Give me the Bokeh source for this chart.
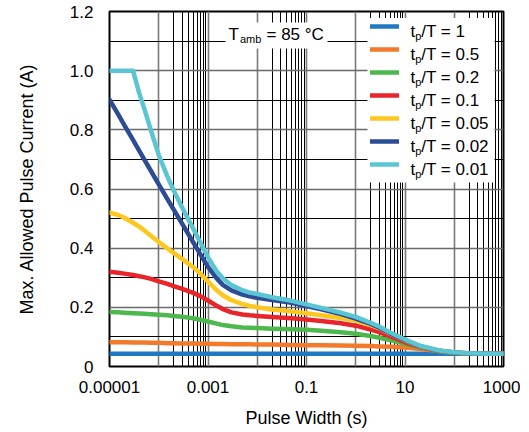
from bokeh.plotting import figure
from bokeh.models import Range1d, FixedTicker, Legend, LegendItem, Label, BoxAnnotation
from bokeh.embed import file_html
from bokeh.resources import INLINE

# ---------------- data ----------------
pulse_width_s = [1e-5, 1.5e-5, 2e-5, 3e-5, 4e-5, 5e-5, 7e-5, 1e-4, 1.5e-4, 2e-4, 3e-4, 5e-4, 7e-4,
                 1e-3, 1.5e-3, 2e-3, 3e-3, 5e-3, 7e-3, 1e-2, 2e-2, 5e-2, 0.1, 0.2, 0.5,
                 1, 2, 3, 5, 10, 20, 50, 100, 200, 500, 1000]

current_d1 = [0.043, 0.043, 0.043, 0.043, 0.043, 0.043, 0.043, 0.043, 0.043, 0.043, 0.043, 0.043,
              0.043, 0.043, 0.043, 0.043, 0.043, 0.043, 0.043, 0.043, 0.043, 0.043, 0.043, 0.043,
              0.043, 0.043, 0.043, 0.043, 0.043, 0.043, 0.043, 0.043, 0.043, 0.043, 0.043, 0.043]
current_d05 = [0.082, 0.082, 0.082, 0.081, 0.081, 0.081, 0.080, 0.080, 0.079, 0.079, 0.078, 0.078,
               0.077, 0.077, 0.076, 0.076, 0.075, 0.075, 0.075, 0.074, 0.074, 0.073, 0.072, 0.072,
               0.071, 0.070, 0.069, 0.068, 0.067, 0.064, 0.059, 0.052, 0.047, 0.044, 0.043, 0.043]
current_d02 = [0.184, 0.183, 0.182, 0.180, 0.179, 0.178, 0.177, 0.175, 0.173, 0.171, 0.168, 0.163,
               0.158, 0.152, 0.145, 0.140, 0.136, 0.132, 0.131, 0.130, 0.128, 0.126, 0.124, 0.121,
               0.116, 0.111, 0.103, 0.097, 0.089, 0.077, 0.064, 0.051, 0.046, 0.044, 0.043, 0.043]
current_d01 = [0.320, 0.317, 0.314, 0.309, 0.305, 0.302, 0.296, 0.288, 0.279, 0.272, 0.262, 0.249,
               0.238, 0.223, 0.205, 0.194, 0.183, 0.176, 0.173, 0.171, 0.167, 0.163, 0.159, 0.154,
               0.146, 0.138, 0.125, 0.116, 0.102, 0.082, 0.066, 0.052, 0.047, 0.044, 0.043, 0.043]
current_d005 = [0.520, 0.512, 0.503, 0.486, 0.473, 0.461, 0.441, 0.421, 0.399, 0.384, 0.363, 0.336,
                0.314, 0.287, 0.258, 0.241, 0.224, 0.211, 0.205, 0.200, 0.193, 0.186, 0.180, 0.173,
                0.164, 0.155, 0.140, 0.129, 0.111, 0.088, 0.068, 0.053, 0.047, 0.044, 0.043, 0.043]
current_d002 = [0.902, 0.852, 0.816, 0.766, 0.730, 0.702, 0.660, 0.616, 0.566, 0.531, 0.482, 0.420,
                0.379, 0.337, 0.298, 0.276, 0.257, 0.243, 0.237, 0.232, 0.225, 0.215, 0.204, 0.193,
                0.177, 0.162, 0.144, 0.131, 0.112, 0.089, 0.069, 0.053, 0.047, 0.044, 0.043, 0.043]
current_d001 = [1.000, 1.000, 1.000, 1.000, 0.925, 0.875, 0.796, 0.715, 0.642, 0.596, 0.537, 0.466,
                0.419, 0.369, 0.322, 0.298, 0.275, 0.258, 0.250, 0.245, 0.234, 0.222, 0.210, 0.198,
                0.182, 0.168, 0.148, 0.135, 0.115, 0.091, 0.070, 0.054, 0.048, 0.045, 0.043, 0.043]

duty_labels = ["1", "0.5", "0.2", "0.1", "0.05", "0.02", "0.01"]
series = [current_d1, current_d05, current_d02, current_d01, current_d005, current_d002, current_d001]
colors = ["#1F78C1", "#F37A2B", "#4DB84E", "#E9242B", "#FFC61E", "#2C4D96", "#5BC6D3"]

x_tick_values = [1e-5, 1e-3, 0.1, 10, 1000]
x_tick_labels = ["0.00001", "0.001", "0.1", "10", "1000"]
y_tick_values = [0, 0.2, 0.4, 0.6, 0.8, 1.0, 1.2]
y_tick_labels = ["0", "0.2", "0.4", "0.6", "0.8", "1.0", "1.2"]

x_grid_decades = [1e-5, 1e-4, 1e-3, 1e-2, 1e-1, 1, 10, 100, 1000]
x_grid_minor = [m * d for d in (1e-4, 1e-2, 1, 100) for m in (2, 3, 4, 5, 6, 7, 8, 9)]
y_grid_major = [0, 0.2, 0.4, 0.6, 0.8, 1.0, 1.2]
y_grid_minor = [0.1, 0.3, 0.5, 0.7, 0.9, 1.1]

FONT = "Liberation Sans"

# frame placement on the canvas (px)
W, H = 520, 432
FL, FR, FT, FB = 109, 503, 11, 366
X0, X1, Y0, Y1 = -5, 3, 0.0, 1.2


def px2x(px):
    return 10 ** (X0 + (px - FL) / (FR - FL) * (X1 - X0))


def px2y(py):
    return Y0 + (FB - py) / (FB - FT) * (Y1 - Y0)


p = figure(x_axis_type="log", x_range=Range1d(1e-5, 1000), y_range=Range1d(0, 1.2),
           width=W, height=H, output_backend="svg", toolbar_location=None,
           min_border_left=FL, min_border_right=W - FR, min_border_top=FT,
           min_border_bottom=H - FB)
p.background_fill_color = "white"
p.border_fill_color = "white"
p.outline_line_color = "black"
p.outline_line_width = 2
p.outline_line_alpha = 1

# grids
p.xgrid.ticker = FixedTicker(ticks=x_grid_decades, minor_ticks=x_grid_minor)
p.xgrid.grid_line_color = "#7A7A7A"
p.xgrid.grid_line_width = 1.6
p.xgrid.minor_grid_line_color = "black"
p.xgrid.minor_grid_line_width = 1
p.ygrid.ticker = FixedTicker(ticks=y_grid_major, minor_ticks=y_grid_minor)
p.ygrid.grid_line_color = "#6A6A6A"
p.ygrid.grid_line_width = 1.5
p.ygrid.minor_grid_line_color = "black"
p.ygrid.minor_grid_line_width = 1

# axes
p.xaxis.ticker = FixedTicker(ticks=x_tick_values)
p.xaxis.major_label_overrides = dict(zip(x_tick_values, x_tick_labels))
p.yaxis.ticker = FixedTicker(ticks=y_tick_values)
p.yaxis.major_label_overrides = dict(zip(y_tick_values, y_tick_labels))
for ax in (p.xaxis[0], p.yaxis[0]):
    ax.axis_line_color = None
    ax.major_tick_line_color = None
    ax.minor_tick_line_color = None
    ax.major_tick_in = 0
    ax.major_tick_out = 0
    ax.minor_tick_in = 0
    ax.minor_tick_out = 0
    ax.major_label_text_font = FONT
    ax.major_label_text_font_size = "17px"
    ax.major_label_text_color = "black"
    ax.axis_label_text_font = FONT
    ax.axis_label_text_font_size = "18px"
    ax.axis_label_text_font_style = "normal"
    ax.axis_label_text_color = "black"
p.xaxis.axis_label = "Pulse Width (s)"
p.xaxis.major_label_standoff = 14
p.xaxis.axis_label_standoff = 12
p.yaxis.axis_label = "Max. Allowed Pulse Current (A)"
p.yaxis.major_label_standoff = 16
p.yaxis.axis_label_standoff = 30

# curves
renderers = []
for vals, col in zip(series, colors):
    r = p.line(pulse_width_s, vals, line_color=col, line_width=4.5, line_join="round", line_cap="round")
    renderers.append(r)

# white legend box (drawn as an annotation so the label texts can sit on top)
p.add_layout(BoxAnnotation(left=px2x(367), right=px2x(494), top=px2y(17.5), bottom=px2y(182),
                           fill_color="white", fill_alpha=1, line_color=None))

# legend line samples only (transparent background)
items = [LegendItem(label=" ", renderers=[r]) for r in renderers]
legend = Legend(items=items, location=(370 - FL, FB - 185.7 + 11.3), padding=5, spacing=3,
                glyph_width=29, glyph_height=20, label_height=20, label_width=79,
                label_standoff=9, label_text_font_size="10px", margin=0,
                background_fill_alpha=0, border_line_color=None)
p.add_layout(legend)

for k, d in enumerate(duty_labels):
    base = 32.7 + 23 * k - 2.0
    p.add_layout(Label(x=px2x(410), y=px2y(base), text="t", text_font=FONT, text_font_size="17px",
                       text_baseline="alphabetic", text_align="left", text_color="black", level="overlay"))
    p.add_layout(Label(x=px2x(414.8), y=px2y(base + 4.5), text="p", text_font=FONT, text_font_size="11px",
                       text_baseline="alphabetic", text_align="left", text_color="black", level="overlay"))
    p.add_layout(Label(x=px2x(420.8), y=px2y(base), text="/T = " + d, text_font=FONT, text_font_size="17px",
                       text_baseline="alphabetic", text_align="left", text_color="black", level="overlay"))

# ambient temperature note
p.add_layout(BoxAnnotation(left=px2x(225), right=px2x(327), top=px2y(22), bottom=px2y(48),
                           fill_color="white", fill_alpha=1, line_color=None))
p.add_layout(Label(x=px2x(228), y=px2y(33.5), text="T", text_font=FONT, text_font_size="17px",
                   text_baseline="alphabetic", text_align="left", text_color="black", level="overlay"))
p.add_layout(Label(x=px2x(239.5), y=px2y(38.5), text="amb", text_font=FONT, text_font_size="11px",
                   text_baseline="alphabetic", text_align="left", text_color="black", level="overlay"))
p.add_layout(Label(x=px2x(266), y=px2y(33.5), text="= 85 °C", text_font=FONT, text_font_size="17px",
                   text_baseline="alphabetic", text_align="left", text_color="black", level="overlay"))

open("out.html", "w").write(file_html(p, INLINE))
